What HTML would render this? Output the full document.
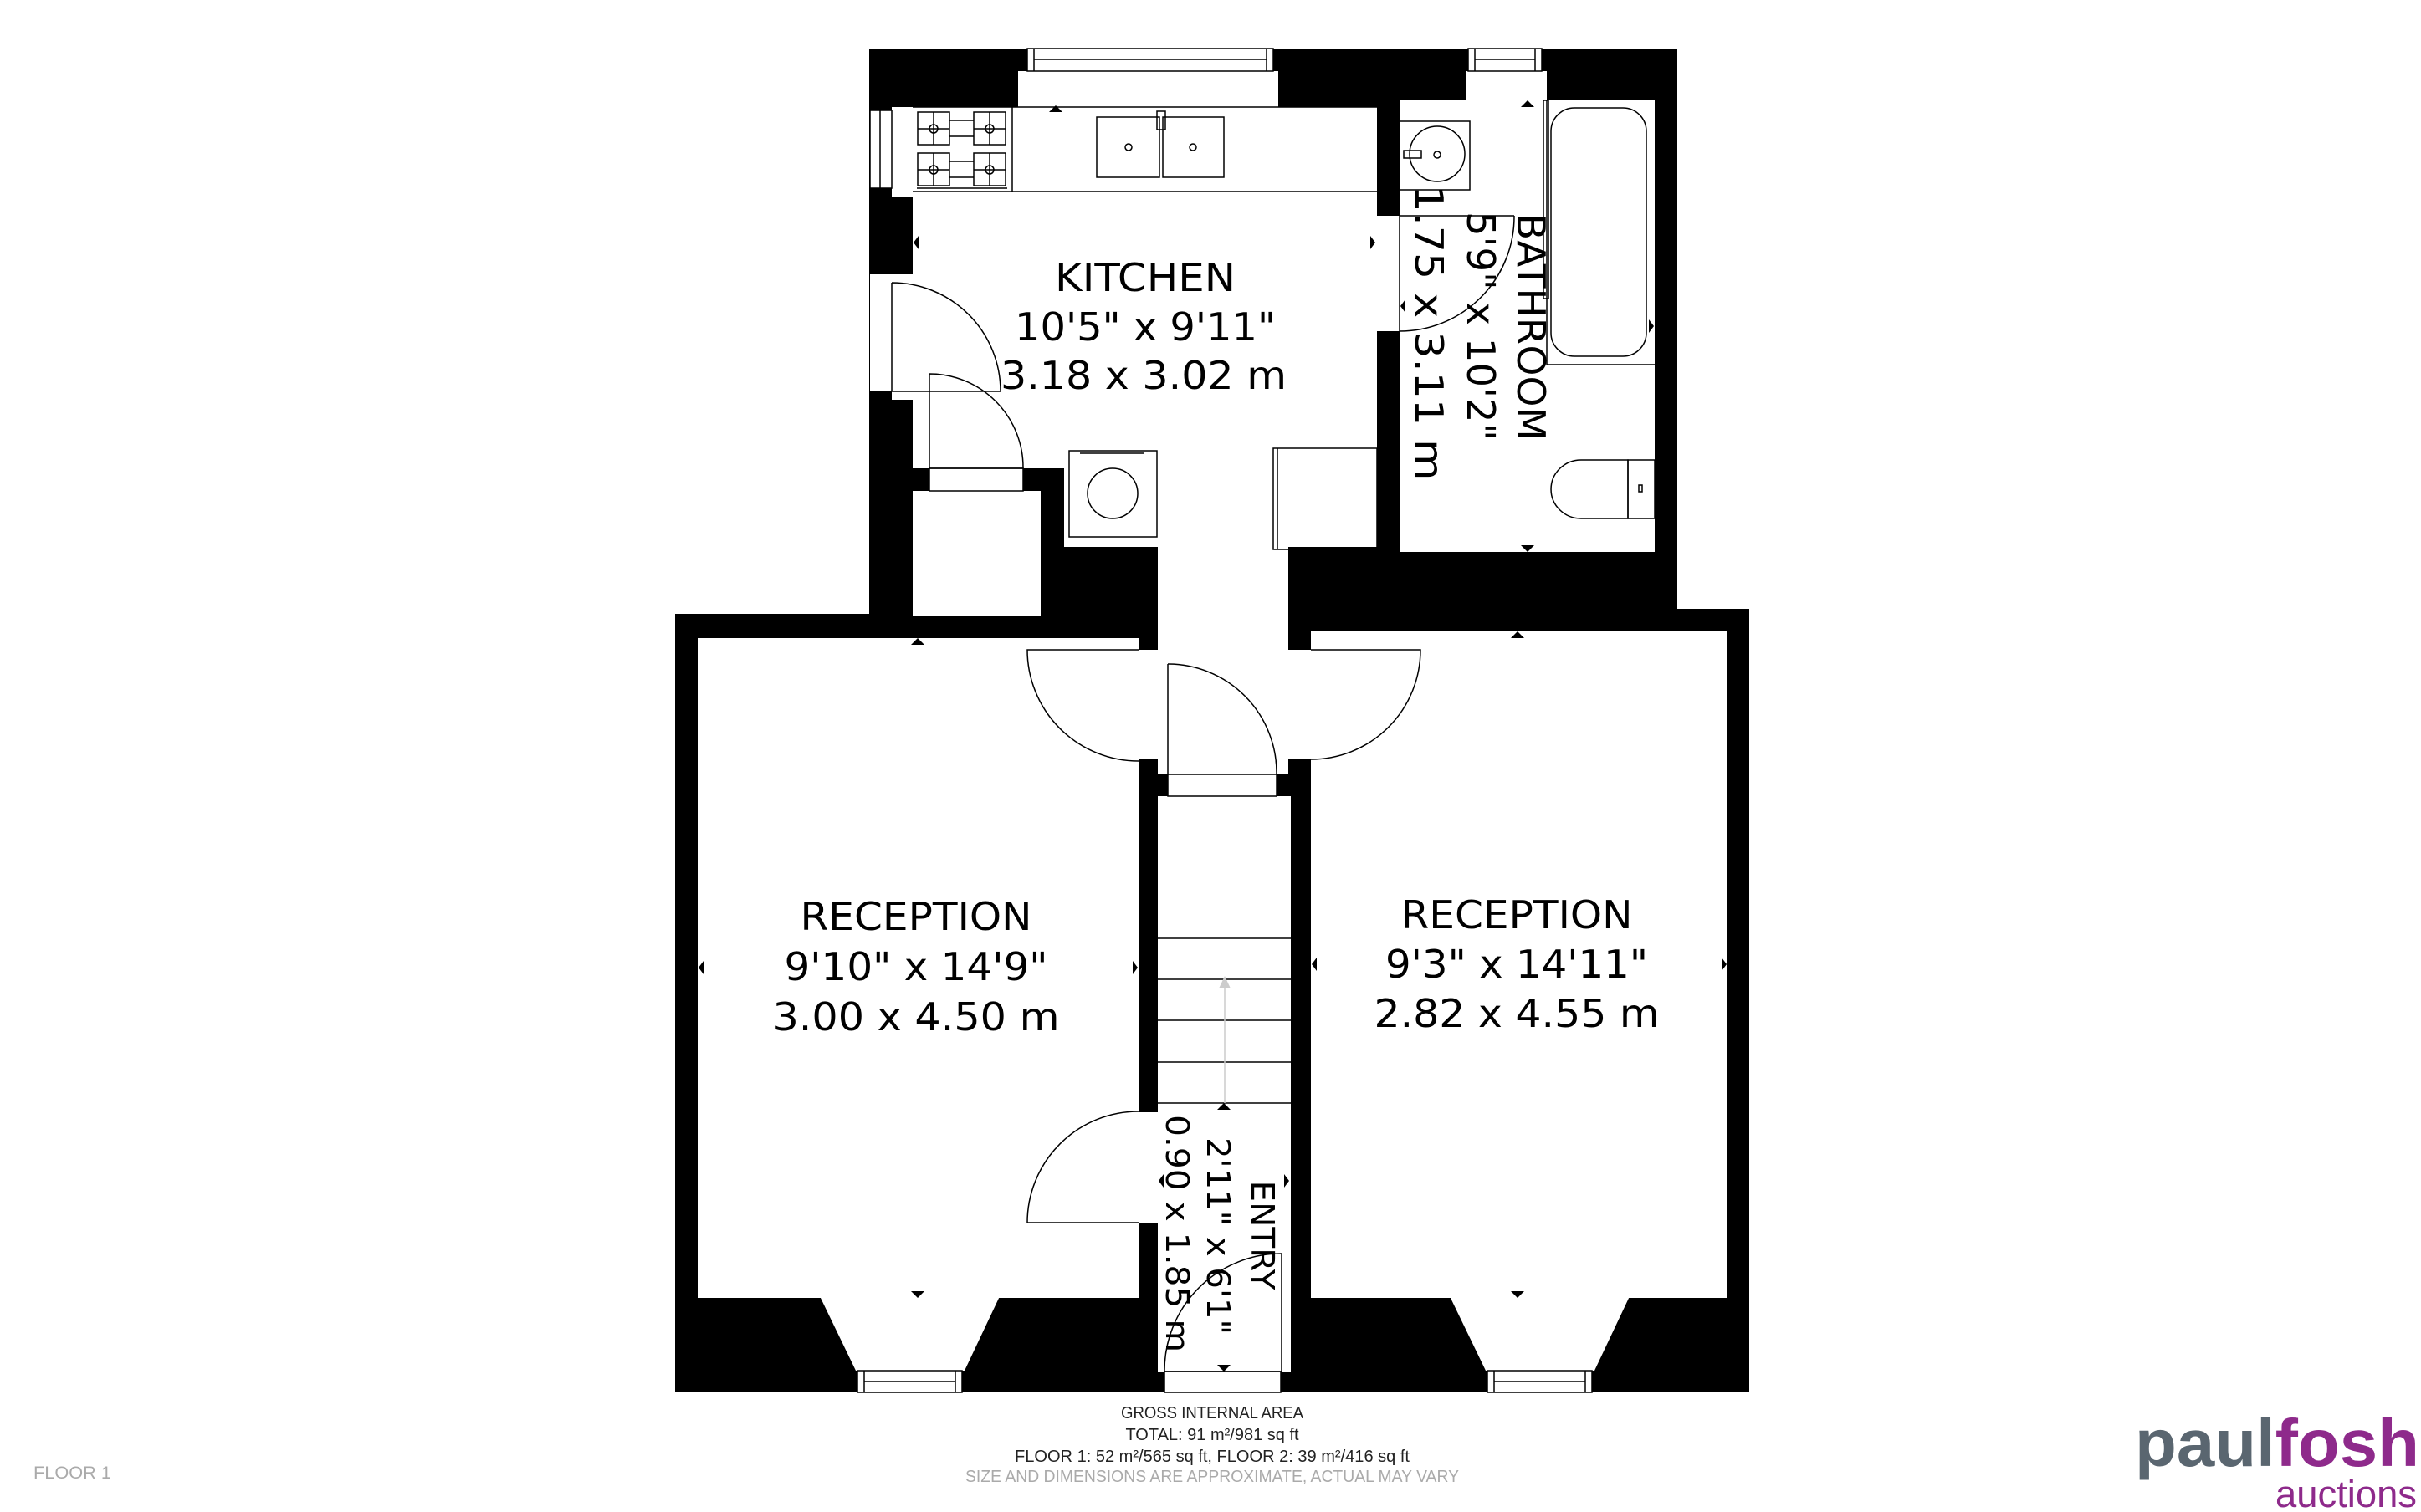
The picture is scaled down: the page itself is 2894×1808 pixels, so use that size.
<!DOCTYPE html>
<html><head><meta charset="utf-8"><style>
html,body{margin:0;padding:0;background:#fff;}
svg{display:block;}
</style></head><body>
<svg xmlns="http://www.w3.org/2000/svg" width="2894" height="1808" viewBox="0 0 2894 1808" font-family="'DejaVu Sans','Liberation Sans',sans-serif">
<rect width="2894" height="1808" fill="#fff"/>
<rect x="1039" y="58" width="966" height="680" fill="#000"/>
<rect x="807" y="734" width="1284" height="931" fill="#000"/>
<rect x="1540" y="728" width="551" height="10" fill="#000"/>
<g fill="#fff">
<rect x="1091" y="128" width="555" height="432"/>
<rect x="1272" y="560" width="374" height="94"/>
<rect x="1384" y="640" width="156" height="286"/>
<rect x="1091" y="587" width="153" height="149"/>
<rect x="1111" y="560" width="112" height="27"/>
<rect x="1040" y="328" width="51" height="140"/>
<rect x="1066" y="468" width="25" height="10"/>
<rect x="1040" y="132" width="26" height="93"/>
<rect x="1066" y="128" width="25" height="108"/>
<rect x="1217" y="85" width="311" height="43"/>
<rect x="1228" y="58" width="294" height="27"/>
<rect x="1673" y="120" width="305" height="540"/>
<rect x="1646" y="258" width="27" height="138"/>
<rect x="1753" y="85" width="96" height="35"/>
<rect x="1755" y="58" width="88" height="27"/>
<rect x="834" y="763" width="527" height="789"/>
<rect x="1567" y="755" width="498" height="797"/>
<rect x="1361" y="777" width="23" height="131"/>
<rect x="1540" y="777" width="27" height="131"/>
<rect x="1361" y="1330" width="26" height="132"/>
<rect x="1396" y="926" width="130" height="26"/>
<rect x="1384" y="952" width="159" height="688"/>
<rect x="1392" y="1640" width="139" height="25"/>
<polygon points="979,1548 1196,1548 1153,1639 1023,1639"/>
<rect x="1025" y="1639" width="125" height="26"/>
<polygon points="1732,1548 1949,1548 1906,1639 1776,1639"/>
<rect x="1778" y="1639" width="125" height="26"/>
</g>
<rect x="1361" y="734" width="23" height="43" fill="#000"/>
<rect x="1540" y="734" width="27" height="43" fill="#000"/>
<g fill="none" stroke="#000" stroke-width="1.5">
<rect x="1228" y="58" width="294" height="27"/><line x1="1236" y1="58" x2="1236" y2="85"/><line x1="1514" y1="58" x2="1514" y2="85"/><line x1="1236" y1="71" x2="1514" y2="71"/>
<rect x="1755" y="58" width="88" height="27"/><line x1="1763" y1="58" x2="1763" y2="85"/><line x1="1835" y1="58" x2="1835" y2="85"/><line x1="1763" y1="71" x2="1835" y2="71"/>
<rect x="1040" y="132" width="26" height="93"/><line x1="1052" y1="132" x2="1052" y2="225"/>
<rect x="1025" y="1639" width="125" height="26"/><line x1="1033" y1="1639" x2="1033" y2="1665"/><line x1="1142" y1="1639" x2="1142" y2="1665"/><line x1="1033" y1="1652" x2="1142" y2="1652"/>
<rect x="1778" y="1639" width="125" height="26"/><line x1="1786" y1="1639" x2="1786" y2="1665"/><line x1="1895" y1="1639" x2="1895" y2="1665"/><line x1="1786" y1="1652" x2="1895" y2="1652"/>
<line x1="1091" y1="229" x2="1646" y2="229"/>
<line x1="1091" y1="128" x2="1646" y2="128"/>
<line x1="1210" y1="128" x2="1210" y2="229"/>
<rect x="1097" y="134" width="38" height="39"/><rect x="1164" y="134" width="38" height="39"/>
<rect x="1097" y="183" width="38" height="39"/><rect x="1164" y="183" width="38" height="39"/>
<circle cx="1116" cy="154" r="5"/><circle cx="1183" cy="154" r="5"/><circle cx="1116" cy="203" r="5"/><circle cx="1183" cy="203" r="5"/>
<path d="M1097 154 H1135 M1116 134 V173 M1164 154 H1202 M1183 134 V173 M1097 203 H1135 M1116 183 V222 M1164 203 H1202 M1183 183 V222 M1135 144 H1164 M1135 163 H1164 M1135 193 H1164 M1135 212 H1164"/>
<line x1="1096" y1="225" x2="1204" y2="225"/>
<rect x="1311" y="140" width="75" height="72"/><rect x="1390" y="140" width="73" height="72"/>
<circle cx="1349" cy="176" r="4"/><circle cx="1426" cy="176" r="4"/>
<rect x="1383" y="133" width="10" height="22"/>
<rect x="1278" y="539" width="105" height="103"/><circle cx="1330" cy="590" r="30"/><line x1="1291" y1="542" x2="1368" y2="542"/>
<rect x="1522" y="536" width="124" height="121"/><line x1="1527" y1="536" x2="1527" y2="657"/>
<path d="M1066 338 L1066 468 L1196 468 M1066 338 A130 130 0 0 1 1196 468"/>
<path d="M1111 447 L1111 560 L1223 560 M1111 447 A112 112 0 0 1 1223 560"/>
<rect x="1111" y="560" width="112" height="27"/>
<path d="M1673 258 L1810 258 M1810 258 A137 137 0 0 1 1673 396"/>
<line x1="1673" y1="258" x2="1673" y2="396"/>
<path d="M1361 777 L1228 777 A133 133 0 0 0 1361 910"/>
<path d="M1567 777 L1698 777 A131 131 0 0 1 1567 908"/>
<path d="M1396 794 L1396 926 M1396 794 A130 130 0 0 1 1526 926"/>
<rect x="1396" y="926" width="130" height="26"/>
<path d="M1361 1462 L1228 1462 A133 133 0 0 1 1361 1329"/>
<path d="M1532 1499 L1532 1640 L1392 1640 M1532 1499 A140 140 0 0 0 1392 1640"/>
<rect x="1392" y="1640" width="139" height="25"/>
<line x1="1384" y1="1122" x2="1543" y2="1122"/><line x1="1384" y1="1171" x2="1543" y2="1171"/><line x1="1384" y1="1220" x2="1543" y2="1220"/><line x1="1384" y1="1270" x2="1543" y2="1270"/><line x1="1384" y1="1319" x2="1543" y2="1319"/>
<line x1="1464" y1="1319" x2="1464" y2="1182" stroke="#ccc"/>
<rect x="1673" y="145" width="84" height="82"/><circle cx="1718" cy="184" r="33"/><circle cx="1718" cy="185" r="4"/><rect x="1678" y="180" width="21" height="9"/>
<rect x="1845" y="120" width="6" height="237"/>
<rect x="1854" y="129" width="114" height="297" rx="28"/>
<line x1="1849" y1="436" x2="1978" y2="436"/><line x1="1849" y1="120" x2="1849" y2="436"/>
<path d="M1946 550 L1890 550 A36 35 0 0 0 1890 620 L1946 620 Z"/><rect x="1946" y="550" width="32" height="70"/><rect x="1959" y="580" width="4" height="8"/>
</g>
<polygon points="1457,1182 1471,1182 1464,1167" fill="#ccc"/>
<g fill="#000">
<polygon points="1254,134 1270,134 1262,126"/>
<polygon points="1092,290 1098,282 1098,298"/><polygon points="1644,290 1638,282 1638,298"/>
<polygon points="1818,128 1834,128 1826,120"/><polygon points="1818,652 1834,652 1826,660"/>
<polygon points="1674,366 1680,358 1680,374"/><polygon points="1977,390 1971,382 1971,398"/>
<polygon points="1089,771 1105,771 1097,763"/><polygon points="1089,1544 1105,1544 1097,1552"/>
<polygon points="835,1157 841,1149 841,1165"/><polygon points="1360,1157 1354,1149 1354,1165"/>
<polygon points="1806,763 1822,763 1814,755"/><polygon points="1806,1544 1822,1544 1814,1552"/>
<polygon points="1568,1153 1574,1145 1574,1161"/><polygon points="2064,1153 2058,1145 2058,1161"/>
<polygon points="1455,1327 1471,1327 1463,1319"/><polygon points="1455,1632 1471,1632 1463,1640"/>
<polygon points="1385,1412 1391,1404 1391,1420"/><polygon points="1541,1412 1535,1404 1535,1420"/>
</g>
<g fill="#000" font-size="46" text-anchor="middle">
<text x="1369" y="348" textLength="216" lengthAdjust="spacingAndGlyphs">KITCHEN</text>
<text x="1369" y="407" textLength="312" lengthAdjust="spacingAndGlyphs">10'5" x 9'11"</text>
<text x="1367" y="465" textLength="342" lengthAdjust="spacingAndGlyphs">3.18 x 3.02 m</text>
<text x="1095" y="1112" textLength="277" lengthAdjust="spacingAndGlyphs">RECEPTION</text>
<text x="1095" y="1172" textLength="315" lengthAdjust="spacingAndGlyphs">9'10" x 14'9"</text>
<text x="1095" y="1232" textLength="343" lengthAdjust="spacingAndGlyphs">3.00 x 4.50 m</text>
<text x="1813" y="1110" textLength="277" lengthAdjust="spacingAndGlyphs">RECEPTION</text>
<text x="1813" y="1169" textLength="314" lengthAdjust="spacingAndGlyphs">9'3" x 14'11"</text>
<text x="1813" y="1228" textLength="341" lengthAdjust="spacingAndGlyphs">2.82 x 4.55 m</text>
</g>
<g fill="#000" font-size="46" text-anchor="middle">
<text transform="translate(1830,391) rotate(90)" y="16" textLength="272" lengthAdjust="spacingAndGlyphs">BATHROOM</text>
<text transform="translate(1770,390) rotate(90)" y="16" textLength="274" lengthAdjust="spacingAndGlyphs">5'9" x 10'2"</text>
<text transform="translate(1708,398) rotate(90)" y="16" textLength="353" lengthAdjust="spacingAndGlyphs">1.75 x 3.11 m</text>
</g>
<g fill="#000" font-size="38" text-anchor="middle">
<text transform="translate(1510,1477) rotate(90)" y="14" textLength="131" lengthAdjust="spacingAndGlyphs">ENTRY</text>
<text transform="translate(1457,1478) rotate(90)" y="14" textLength="236" lengthAdjust="spacingAndGlyphs">2'11" x 6'1"</text>
<text transform="translate(1408,1475) rotate(90)" y="14" textLength="284" lengthAdjust="spacingAndGlyphs">0.90 x 1.85 m</text>
</g>
<g font-family="'Liberation Sans',sans-serif" font-size="20" text-anchor="middle" fill="#222">
<text x="1449" y="1696" textLength="218" lengthAdjust="spacingAndGlyphs">GROSS INTERNAL AREA</text>
<text x="1449" y="1722">TOTAL: 91 m²/981 sq ft</text>
<text x="1449" y="1748" textLength="472" lengthAdjust="spacingAndGlyphs">FLOOR 1: 52 m²/565 sq ft, FLOOR 2: 39 m²/416 sq ft</text>
<text x="1449" y="1772" fill="#aaa" textLength="590" lengthAdjust="spacingAndGlyphs">SIZE AND DIMENSIONS ARE APPROXIMATE, ACTUAL MAY VARY</text>
</g>
<text x="40" y="1768" font-family="'Liberation Sans',sans-serif" font-size="21" fill="#aaa" textLength="93" lengthAdjust="spacingAndGlyphs">FLOOR 1</text>
<text x="2552" y="1753" font-family="'Liberation Sans',sans-serif" font-size="80" font-weight="bold" textLength="340" lengthAdjust="spacingAndGlyphs"><tspan fill="#5a6670">paul</tspan><tspan fill="#8e2a8b">fosh</tspan></text>
<text x="2720" y="1802" font-family="'Liberation Sans',sans-serif" font-size="45" fill="#8e2a8b" textLength="169" lengthAdjust="spacingAndGlyphs">auctions</text>
</svg>
</body></html>
